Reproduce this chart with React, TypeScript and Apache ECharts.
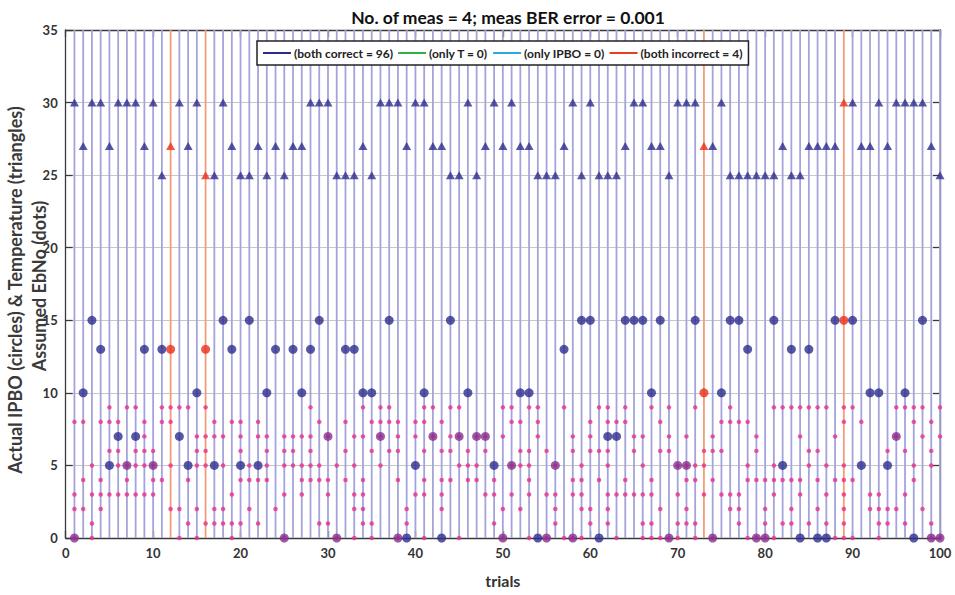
import React, { useEffect, useRef } from "react";
import * as echarts from "echarts";

// Temperature (triangles) per trial 1..100
const temperature = [
  30, 27, 30, 30, 27, 30, 30, 30, 27, 30,
  25, 27, 30, 27, 30, 25, 25, 30, 27, 25,
  25, 27, 25, 27, 25, 27, 27, 30, 30, 30,
  25, 25, 25, 27, 25, 30, 30, 30, 27, 30,
  30, 27, 27, 25, 25, 30, 25, 27, 30, 27,
  30, 27, 27, 25, 25, 25, 27, 30, 25, 30,
  25, 25, 25, 27, 30, 30, 27, 27, 25, 30,
  30, 30, 27, 27, 30, 25, 25, 25, 25, 25,
  25, 27, 25, 25, 27, 27, 27, 27, 30, 30,
  27, 27, 30, 27, 30, 30, 30, 30, 27, 25,
];

// Actual IPBO (circles) per trial 1..100
const ipbo = [
  0, 10, 15, 13, 5, 7, 5, 7, 13, 5,
  13, 13, 7, 5, 10, 13, 5, 15, 13, 5,
  15, 5, 10, 13, 0, 13, 10, 13, 15, 7,
  0, 13, 13, 10, 10, 7, 15, 0, 0, 5,
  10, 7, 0, 15, 7, 10, 7, 7, 5, 0,
  5, 10, 10, 0, 0, 5, 13, 0, 15, 15,
  0, 7, 7, 15, 15, 15, 10, 15, 0, 5,
  5, 15, 10, 0, 10, 15, 15, 13, 0, 0,
  15, 5, 13, 0, 13, 0, 0, 15, 15, 15,
  5, 10, 10, 5, 7, 10, 0, 15, 0, 0,
];

// Assumed EbNo (dots) per trial 1..100
const ebno: number[][] = [
  [8, 3, 2, 0], [8, 4, 2], [5, 3, 1, 0], [8, 4, 3, 2], [9, 8, 6, 3],
  [8, 6, 5, 3], [9, 5, 4, 3], [9, 6, 5, 3], [8, 7, 6, 5, 3], [6, 5, 4, 3],
  [9, 8, 4], [9, 8, 5, 2], [9, 2, 0], [9, 4, 1], [7, 6, 5, 2, 0],
  [9, 7, 6, 5, 1], [8, 7, 2, 1], [7, 5, 2, 1], [8, 3, 1, 0], [8, 7, 6, 4, 1],
  [5, 4, 2], [8, 7, 4, 1], [7, 6, 5, 4], [2], [7, 6, 5, 3, 0],
  [7, 6, 5], [7, 5, 4, 3], [9, 7, 6, 5, 4], [8, 5, 4, 1], [7, 4, 3, 1],
  [5, 0], [8, 6, 4], [7, 5, 3, 2, 0], [9, 7, 4, 3, 2, 1], [8, 6, 1, 0],
  [9, 8, 7, 5], [9, 8, 6], [8, 7, 6, 4, 0], [2, 1], [8, 7, 3],
  [9, 8, 6, 4, 3, 0], [9, 7], [8, 6, 4, 3, 2], [9, 7, 6, 4], [9, 7, 5, 0],
  [6, 5, 4], [7, 5, 4], [7, 6, 3], [4, 3, 1], [9, 7, 2, 0],
  [9, 8, 5, 3], [8, 6, 5, 2], [9, 6, 5, 4, 3, 0], [9, 8, 7], [6, 3, 0],
  [5, 3, 2, 1], [9, 0], [7, 6, 4, 3, 0], [5, 4, 3, 2, 0], [8, 7, 6, 2, 1],
  [9, 6, 4], [9, 8, 6, 5, 3, 2, 1], [8, 3, 0], [9, 8, 4, 3], [7, 6, 3],
  [7, 5, 3, 1, 0], [9, 4, 3, 1, 0], [8, 6, 2, 0], [9, 7, 6, 0], [5, 3, 1, 0],
  [7, 5, 4, 2, 1], [9, 5, 4, 1, 0], [6, 5, 3], [7, 6, 4, 0], [8, 6, 3],
  [9, 8, 3, 2], [8, 3, 2, 1], [8, 5, 4, 0], [7, 6, 4, 0], [4, 2, 1, 0],
  [9, 5, 4, 3, 0], [9, 4, 1], [9, 4, 2, 1], [9, 7, 4, 3], [9, 6, 5, 1],
  [9, 6, 4, 2], [9, 5, 3, 1], [7, 4, 0], [9, 8, 5, 4, 3, 2, 1, 0], [9, 4, 0],
  [8], [3, 2], [3, 2, 1, 0], [6, 2, 1], [9, 7, 2],
  [9, 6, 3, 1], [9, 8, 5, 4], [9, 7, 2], [8, 6, 5, 1, 0], [9, 7, 0],
];

const incorrectTrials = [12, 16, 73, 89];

const titleText = "No. of meas = 4; meas BER error = 0.001";
const yLabelLine1 = "Actual IPBO (circles) & Temperature (triangles)";
const yLabelLine2 = "Assumed EbNo (dots)";
const xLabel = "trials";
const legendNames = [
  "(both correct = 96)",
  "(only T = 0)",
  "(only IPBO = 0)",
  "(both incorrect = 4)",
];
const legendColors = ["#2b2b8c", "#2fb04a", "#2aa8e0", "#e8401c"];

const FONT = "Lato, 'Open Sans', sans-serif";
const NAVY = "#2d2d8f";
const RED = "#e8301c";
const PURPLE = "#86308e";
const MAGENTA = "#e8308c";

export default function App() {
  const ref = useRef<HTMLDivElement>(null);

  useEffect(() => {
    if (!ref.current) return;
    const chart = echarts.init(ref.current, null, { renderer: "svg" });

    const isBad = (t: number) => incorrectTrials.includes(t);

    const vlineData = temperature.map((_, i) => [i + 1, isBad(i + 1) ? 1 : 0]);

    const dotData: number[][] = [];
    ebno.forEach((vals, i) => {
      vals.forEach((v) => dotData.push([i + 1, v]));
    });

    const circleData = ipbo.map((v, i) => {
      const t = i + 1;
      const overlap = ebno[i].includes(v);
      return {
        value: [t, v],
        itemStyle: { color: isBad(t) ? RED : overlap ? PURPLE : NAVY },
      };
    });

    const triData = temperature.map((v, i) => ({
      value: [i + 1, v],
      itemStyle: { color: isBad(i + 1) ? RED : NAVY },
    }));

    const axisCommon = {
      type: "value" as const,
      axisLine: { show: true, onZero: false, lineStyle: { color: "#3a3a3a", width: 1.3 } },
      axisTick: { show: true, inside: true, length: 7, lineStyle: { color: "#3a3a3a", width: 1.3 } },
    };

    chart.setOption({
      animation: false,
      backgroundColor: "#ffffff",
      title: {
        text: titleText,
        left: 503,
        textAlign: "center",
        top: 3,
        textStyle: { fontFamily: FONT, fontSize: 17.5, fontWeight: "bold", color: "#111" },
      },
      legend: {
        data: legendNames,
        left: 257,
        top: 41,
        padding: [6, 6, 6, 6],
        itemGap: 5,
        itemWidth: 28,
        itemHeight: 2,
        icon: "rect",
        borderColor: "#222",
        borderWidth: 1.5,
        backgroundColor: "#ffffff",
        textStyle: { fontFamily: FONT, fontSize: 12, fontWeight: "bold", color: "#222", padding: [0, 0, 0, -2] },
        selectedMode: false,
      },
      grid: { left: 65.7, right: 15, top: 30, bottom: 57 },
      xAxis: [
        {
          ...axisCommon,
          position: "bottom",
          min: 0,
          max: 100,
          interval: 10,
          splitLine: { show: false },
          axisLabel: { fontFamily: FONT, fontSize: 13, fontWeight: "bold", color: "#333", margin: 8 },
          name: xLabel,
          nameLocation: "middle",
          nameGap: 34,
          nameTextStyle: { fontFamily: FONT, fontSize: 16, fontWeight: "bold", color: "#333" },
        },
        {
          ...axisCommon,
          position: "top",
          min: 0,
          max: 100,
          interval: 10,
          splitLine: { show: false },
          axisLabel: { show: false },
        },
      ],
      yAxis: [
        {
          ...axisCommon,
          position: "left",
          min: 0,
          max: 35,
          interval: 5,
          splitLine: { show: true, lineStyle: { color: "#c6c6c6", width: 1 } },
          axisLabel: { fontFamily: FONT, fontSize: 13, fontWeight: "bold", color: "#333", margin: 8 },
        },
        {
          ...axisCommon,
          position: "right",
          min: 0,
          max: 35,
          interval: 5,
          splitLine: { show: false },
          axisLabel: { show: false },
        },
      ],
      graphic: [
        {
          type: "text",
          x: 15,
          y: 290,
          rotation: Math.PI / 2,
          style: {
            text: yLabelLine1,
            fontFamily: FONT,
            fontSize: 18,
            fontWeight: "bold",
            fill: "#3a3a3a",
            textAlign: "center",
            textVerticalAlign: "middle",
          },
        },
        {
          type: "text",
          x: 38.5,
          y: 286,
          rotation: Math.PI / 2,
          style: {
            text: yLabelLine2,
            fontFamily: FONT,
            fontSize: 18,
            fontWeight: "bold",
            fill: "#3a3a3a",
            textAlign: "center",
            textVerticalAlign: "middle",
          },
        },
      ],
      series: [
        {
          name: "trialLines",
          type: "custom",
          xAxisIndex: 0,
          yAxisIndex: 0,
          silent: true,
          z: 1,
          data: vlineData,
          renderItem: (_params: any, api: any) => {
            const t = api.value(0);
            const bad = api.value(1);
            const p0 = api.coord([t, 0]);
            const p1 = api.coord([t, 35]);
            return {
              type: "line",
              shape: { x1: p0[0], y1: p0[1], x2: p1[0], y2: p1[1] },
              style: { stroke: bad ? "#f39c7a" : "#a4a4da", lineWidth: 1.8 },
            };
          },
        },
        ...legendNames.map((n, i) => ({
          name: n,
          type: "line",
          data: [],
          color: legendColors[i],
          lineStyle: { color: legendColors[i], width: 2 },
        })),
        {
          name: "dots",
          type: "scatter",
          symbol: "circle",
          symbolSize: 4.5,
          z: 3,
          itemStyle: { color: MAGENTA },
          data: dotData,
        },
        {
          name: "circles",
          type: "scatter",
          symbol: "circle",
          symbolSize: 9,
          z: 4,
          data: circleData,
        },
        {
          name: "triangles",
          type: "scatter",
          symbol: "triangle",
          symbolSize: [9, 8],
          z: 4,
          data: triData,
        },
      ],
    });

    return () => chart.dispose();
  }, []);

  return (
    <div
      ref={ref}
      style={{ position: "fixed", left: 0, top: 0, width: 955, height: 595 }}
    />
  );
}
